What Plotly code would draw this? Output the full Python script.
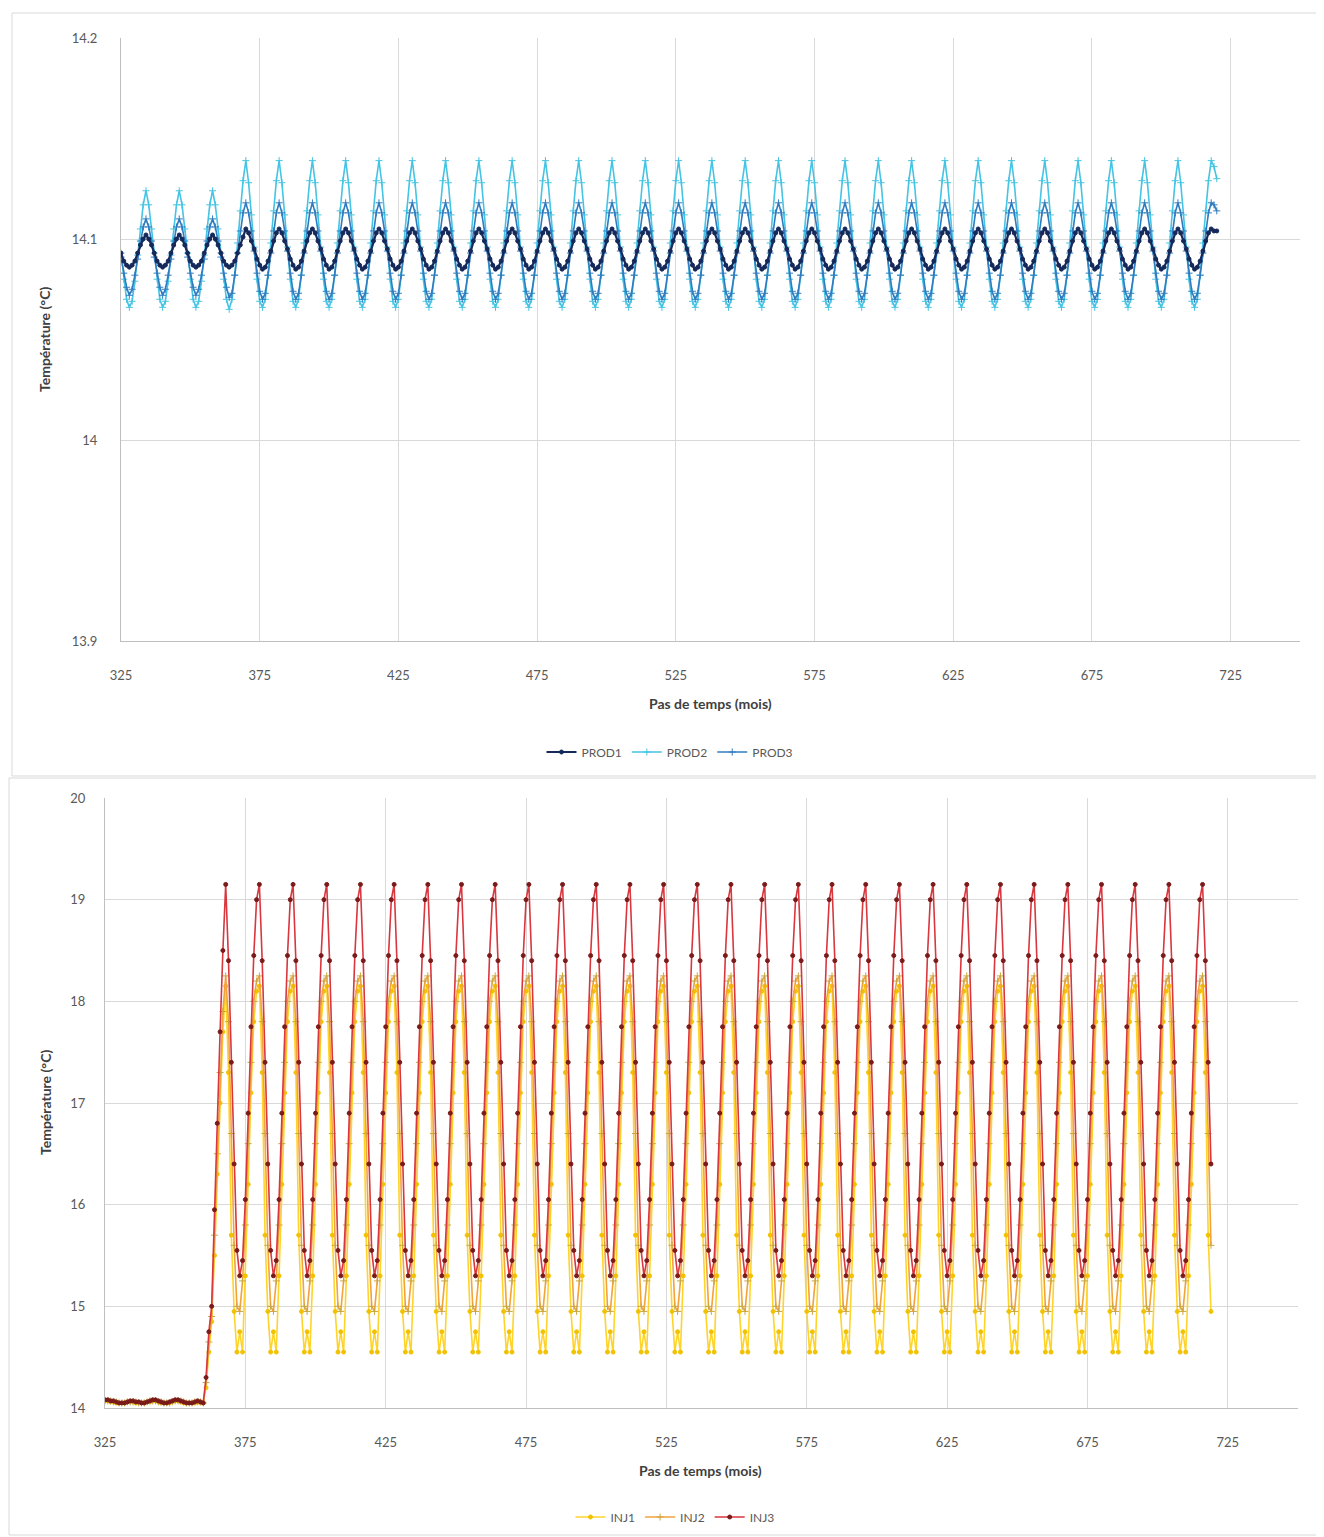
import plotly.graph_objects as go

# ---------------- DATA ----------------
# Top chart: production wells, time steps 325..720 (months)
months_prod = list(range(325, 721))
prod_names = ["PROD1", "PROD2", "PROD3"]

# Each row = one year of monthly values, the comment gives the first month of the row
PROD1_rows = [
    [14.093, 14.089, 14.087, 14.086, 14.087, 14.089, 14.093, 14.097, 14.100],  # 325
    [14.102, 14.100, 14.097, 14.093, 14.089, 14.087, 14.086, 14.087, 14.089, 14.093, 14.097, 14.100],  # 334
    [14.102, 14.100, 14.097, 14.093, 14.089, 14.087, 14.086, 14.087, 14.089, 14.093, 14.097, 14.100],  # 346
    [14.102, 14.100, 14.097, 14.093, 14.089, 14.087, 14.086, 14.087, 14.089, 14.093, 14.097, 14.101],  # 358
    [14.105, 14.103, 14.099, 14.095, 14.090, 14.087, 14.085, 14.086, 14.089, 14.094, 14.099, 14.103],  # 370
    [14.105, 14.103, 14.099, 14.095, 14.090, 14.087, 14.085, 14.086, 14.089, 14.094, 14.099, 14.103],  # 382
    [14.105, 14.103, 14.099, 14.095, 14.090, 14.087, 14.085, 14.086, 14.089, 14.094, 14.099, 14.103],  # 394
    [14.105, 14.103, 14.099, 14.095, 14.090, 14.087, 14.085, 14.086, 14.089, 14.094, 14.099, 14.103],  # 406
    [14.105, 14.103, 14.099, 14.095, 14.090, 14.087, 14.085, 14.086, 14.089, 14.094, 14.099, 14.103],  # 418
    [14.105, 14.103, 14.099, 14.095, 14.090, 14.087, 14.085, 14.086, 14.089, 14.094, 14.099, 14.103],  # 430
    [14.105, 14.103, 14.099, 14.095, 14.090, 14.087, 14.085, 14.086, 14.089, 14.094, 14.099, 14.103],  # 442
    [14.105, 14.103, 14.099, 14.095, 14.090, 14.087, 14.085, 14.086, 14.089, 14.094, 14.099, 14.103],  # 454
    [14.105, 14.103, 14.099, 14.095, 14.090, 14.087, 14.085, 14.086, 14.089, 14.094, 14.099, 14.103],  # 466
    [14.105, 14.103, 14.099, 14.095, 14.090, 14.087, 14.085, 14.086, 14.089, 14.094, 14.099, 14.103],  # 478
    [14.105, 14.103, 14.099, 14.095, 14.090, 14.087, 14.085, 14.086, 14.089, 14.094, 14.099, 14.103],  # 490
    [14.105, 14.103, 14.099, 14.095, 14.090, 14.087, 14.085, 14.086, 14.089, 14.094, 14.099, 14.103],  # 502
    [14.105, 14.103, 14.099, 14.095, 14.090, 14.087, 14.085, 14.086, 14.089, 14.094, 14.099, 14.103],  # 514
    [14.105, 14.103, 14.099, 14.095, 14.090, 14.087, 14.085, 14.086, 14.089, 14.094, 14.099, 14.103],  # 526
    [14.105, 14.103, 14.099, 14.095, 14.090, 14.087, 14.085, 14.086, 14.089, 14.094, 14.099, 14.103],  # 538
    [14.105, 14.103, 14.099, 14.095, 14.090, 14.087, 14.085, 14.086, 14.089, 14.094, 14.099, 14.103],  # 550
    [14.105, 14.103, 14.099, 14.095, 14.090, 14.087, 14.085, 14.086, 14.089, 14.094, 14.099, 14.103],  # 562
    [14.105, 14.103, 14.099, 14.095, 14.090, 14.087, 14.085, 14.086, 14.089, 14.094, 14.099, 14.103],  # 574
    [14.105, 14.103, 14.099, 14.095, 14.090, 14.087, 14.085, 14.086, 14.089, 14.094, 14.099, 14.103],  # 586
    [14.105, 14.103, 14.099, 14.095, 14.090, 14.087, 14.085, 14.086, 14.089, 14.094, 14.099, 14.103],  # 598
    [14.105, 14.103, 14.099, 14.095, 14.090, 14.087, 14.085, 14.086, 14.089, 14.094, 14.099, 14.103],  # 610
    [14.105, 14.103, 14.099, 14.095, 14.090, 14.087, 14.085, 14.086, 14.089, 14.094, 14.099, 14.103],  # 622
    [14.105, 14.103, 14.099, 14.095, 14.090, 14.087, 14.085, 14.086, 14.089, 14.094, 14.099, 14.103],  # 634
    [14.105, 14.103, 14.099, 14.095, 14.090, 14.087, 14.085, 14.086, 14.089, 14.094, 14.099, 14.103],  # 646
    [14.105, 14.103, 14.099, 14.095, 14.090, 14.087, 14.085, 14.086, 14.089, 14.094, 14.099, 14.103],  # 658
    [14.105, 14.103, 14.099, 14.095, 14.090, 14.087, 14.085, 14.086, 14.089, 14.094, 14.099, 14.103],  # 670
    [14.105, 14.103, 14.099, 14.095, 14.090, 14.087, 14.085, 14.086, 14.089, 14.094, 14.099, 14.103],  # 682
    [14.105, 14.103, 14.099, 14.095, 14.090, 14.087, 14.085, 14.086, 14.089, 14.094, 14.099, 14.103],  # 694
    [14.105, 14.103, 14.099, 14.095, 14.090, 14.087, 14.085, 14.086, 14.089, 14.094, 14.099, 14.103],  # 706
    [14.105, 14.104, 14.104],  # 718
]

PROD2_rows = [
    [14.093, 14.080, 14.070, 14.066, 14.069, 14.079, 14.092, 14.105, 14.117],  # 325
    [14.124, 14.117, 14.105, 14.093, 14.080, 14.070, 14.066, 14.069, 14.079, 14.092, 14.105, 14.117],  # 334
    [14.124, 14.117, 14.105, 14.093, 14.080, 14.070, 14.066, 14.069, 14.079, 14.092, 14.105, 14.117],  # 346
    [14.124, 14.117, 14.105, 14.093, 14.080, 14.070, 14.065, 14.070, 14.082, 14.098, 14.114, 14.129],  # 358
    [14.139, 14.128, 14.112, 14.096, 14.080, 14.069, 14.066, 14.070, 14.082, 14.098, 14.114, 14.129],  # 370
    [14.139, 14.128, 14.112, 14.096, 14.080, 14.069, 14.066, 14.070, 14.082, 14.098, 14.114, 14.129],  # 382
    [14.139, 14.128, 14.112, 14.096, 14.080, 14.069, 14.066, 14.070, 14.082, 14.098, 14.114, 14.129],  # 394
    [14.139, 14.128, 14.112, 14.096, 14.080, 14.069, 14.066, 14.070, 14.082, 14.098, 14.114, 14.129],  # 406
    [14.139, 14.128, 14.112, 14.096, 14.080, 14.069, 14.066, 14.070, 14.082, 14.098, 14.114, 14.129],  # 418
    [14.139, 14.128, 14.112, 14.096, 14.080, 14.069, 14.066, 14.070, 14.082, 14.098, 14.114, 14.129],  # 430
    [14.139, 14.128, 14.112, 14.096, 14.080, 14.069, 14.066, 14.070, 14.082, 14.098, 14.114, 14.129],  # 442
    [14.139, 14.128, 14.112, 14.096, 14.080, 14.069, 14.066, 14.070, 14.082, 14.098, 14.114, 14.129],  # 454
    [14.139, 14.128, 14.112, 14.096, 14.080, 14.069, 14.066, 14.070, 14.082, 14.098, 14.114, 14.129],  # 466
    [14.139, 14.128, 14.112, 14.096, 14.080, 14.069, 14.066, 14.070, 14.082, 14.098, 14.114, 14.129],  # 478
    [14.139, 14.128, 14.112, 14.096, 14.080, 14.069, 14.066, 14.070, 14.082, 14.098, 14.114, 14.129],  # 490
    [14.139, 14.128, 14.112, 14.096, 14.080, 14.069, 14.066, 14.070, 14.082, 14.098, 14.114, 14.129],  # 502
    [14.139, 14.128, 14.112, 14.096, 14.080, 14.069, 14.066, 14.070, 14.082, 14.098, 14.114, 14.129],  # 514
    [14.139, 14.128, 14.112, 14.096, 14.080, 14.069, 14.066, 14.070, 14.082, 14.098, 14.114, 14.129],  # 526
    [14.139, 14.128, 14.112, 14.096, 14.080, 14.069, 14.066, 14.070, 14.082, 14.098, 14.114, 14.129],  # 538
    [14.139, 14.128, 14.112, 14.096, 14.080, 14.069, 14.066, 14.070, 14.082, 14.098, 14.114, 14.129],  # 550
    [14.139, 14.128, 14.112, 14.096, 14.080, 14.069, 14.066, 14.070, 14.082, 14.098, 14.114, 14.129],  # 562
    [14.139, 14.128, 14.112, 14.096, 14.080, 14.069, 14.066, 14.070, 14.082, 14.098, 14.114, 14.129],  # 574
    [14.139, 14.128, 14.112, 14.096, 14.080, 14.069, 14.066, 14.070, 14.082, 14.098, 14.114, 14.129],  # 586
    [14.139, 14.128, 14.112, 14.096, 14.080, 14.069, 14.066, 14.070, 14.082, 14.098, 14.114, 14.129],  # 598
    [14.139, 14.128, 14.112, 14.096, 14.080, 14.069, 14.066, 14.070, 14.082, 14.098, 14.114, 14.129],  # 610
    [14.139, 14.128, 14.112, 14.096, 14.080, 14.069, 14.066, 14.070, 14.082, 14.098, 14.114, 14.129],  # 622
    [14.139, 14.128, 14.112, 14.096, 14.080, 14.069, 14.066, 14.070, 14.082, 14.098, 14.114, 14.129],  # 634
    [14.139, 14.128, 14.112, 14.096, 14.080, 14.069, 14.066, 14.070, 14.082, 14.098, 14.114, 14.129],  # 646
    [14.139, 14.128, 14.112, 14.096, 14.080, 14.069, 14.066, 14.070, 14.082, 14.098, 14.114, 14.129],  # 658
    [14.139, 14.128, 14.112, 14.096, 14.080, 14.069, 14.066, 14.070, 14.082, 14.098, 14.114, 14.129],  # 670
    [14.139, 14.128, 14.112, 14.096, 14.080, 14.069, 14.066, 14.070, 14.082, 14.098, 14.114, 14.129],  # 682
    [14.139, 14.128, 14.112, 14.096, 14.080, 14.069, 14.066, 14.070, 14.082, 14.098, 14.114, 14.129],  # 694
    [14.139, 14.128, 14.112, 14.096, 14.080, 14.069, 14.066, 14.070, 14.082, 14.098, 14.114, 14.129],  # 706
    [14.139, 14.136, 14.130],  # 718
]

PROD3_rows = [
    [14.091, 14.083, 14.076, 14.072, 14.075, 14.082, 14.090, 14.099, 14.106],  # 325
    [14.110, 14.106, 14.099, 14.091, 14.083, 14.076, 14.072, 14.075, 14.082, 14.090, 14.099, 14.106],  # 334
    [14.110, 14.106, 14.099, 14.091, 14.083, 14.076, 14.072, 14.075, 14.082, 14.090, 14.099, 14.106],  # 346
    [14.110, 14.106, 14.099, 14.091, 14.083, 14.076, 14.071, 14.073, 14.082, 14.093, 14.104, 14.113],  # 358
    [14.118, 14.113, 14.104, 14.094, 14.083, 14.074, 14.070, 14.073, 14.082, 14.093, 14.104, 14.113],  # 370
    [14.118, 14.113, 14.104, 14.094, 14.083, 14.074, 14.070, 14.073, 14.082, 14.093, 14.104, 14.113],  # 382
    [14.118, 14.113, 14.104, 14.094, 14.083, 14.074, 14.070, 14.073, 14.082, 14.093, 14.104, 14.113],  # 394
    [14.118, 14.113, 14.104, 14.094, 14.083, 14.074, 14.070, 14.073, 14.082, 14.093, 14.104, 14.113],  # 406
    [14.118, 14.113, 14.104, 14.094, 14.083, 14.074, 14.070, 14.073, 14.082, 14.093, 14.104, 14.113],  # 418
    [14.118, 14.113, 14.104, 14.094, 14.083, 14.074, 14.070, 14.073, 14.082, 14.093, 14.104, 14.113],  # 430
    [14.118, 14.113, 14.104, 14.094, 14.083, 14.074, 14.070, 14.073, 14.082, 14.093, 14.104, 14.113],  # 442
    [14.118, 14.113, 14.104, 14.094, 14.083, 14.074, 14.070, 14.073, 14.082, 14.093, 14.104, 14.113],  # 454
    [14.118, 14.113, 14.104, 14.094, 14.083, 14.074, 14.070, 14.073, 14.082, 14.093, 14.104, 14.113],  # 466
    [14.118, 14.113, 14.104, 14.094, 14.083, 14.074, 14.070, 14.073, 14.082, 14.093, 14.104, 14.113],  # 478
    [14.118, 14.113, 14.104, 14.094, 14.083, 14.074, 14.070, 14.073, 14.082, 14.093, 14.104, 14.113],  # 490
    [14.118, 14.113, 14.104, 14.094, 14.083, 14.074, 14.070, 14.073, 14.082, 14.093, 14.104, 14.113],  # 502
    [14.118, 14.113, 14.104, 14.094, 14.083, 14.074, 14.070, 14.073, 14.082, 14.093, 14.104, 14.113],  # 514
    [14.118, 14.113, 14.104, 14.094, 14.083, 14.074, 14.070, 14.073, 14.082, 14.093, 14.104, 14.113],  # 526
    [14.118, 14.113, 14.104, 14.094, 14.083, 14.074, 14.070, 14.073, 14.082, 14.093, 14.104, 14.113],  # 538
    [14.118, 14.113, 14.104, 14.094, 14.083, 14.074, 14.070, 14.073, 14.082, 14.093, 14.104, 14.113],  # 550
    [14.118, 14.113, 14.104, 14.094, 14.083, 14.074, 14.070, 14.073, 14.082, 14.093, 14.104, 14.113],  # 562
    [14.118, 14.113, 14.104, 14.094, 14.083, 14.074, 14.070, 14.073, 14.082, 14.093, 14.104, 14.113],  # 574
    [14.118, 14.113, 14.104, 14.094, 14.083, 14.074, 14.070, 14.073, 14.082, 14.093, 14.104, 14.113],  # 586
    [14.118, 14.113, 14.104, 14.094, 14.083, 14.074, 14.070, 14.073, 14.082, 14.093, 14.104, 14.113],  # 598
    [14.118, 14.113, 14.104, 14.094, 14.083, 14.074, 14.070, 14.073, 14.082, 14.093, 14.104, 14.113],  # 610
    [14.118, 14.113, 14.104, 14.094, 14.083, 14.074, 14.070, 14.073, 14.082, 14.093, 14.104, 14.113],  # 622
    [14.118, 14.113, 14.104, 14.094, 14.083, 14.074, 14.070, 14.073, 14.082, 14.093, 14.104, 14.113],  # 634
    [14.118, 14.113, 14.104, 14.094, 14.083, 14.074, 14.070, 14.073, 14.082, 14.093, 14.104, 14.113],  # 646
    [14.118, 14.113, 14.104, 14.094, 14.083, 14.074, 14.070, 14.073, 14.082, 14.093, 14.104, 14.113],  # 658
    [14.118, 14.113, 14.104, 14.094, 14.083, 14.074, 14.070, 14.073, 14.082, 14.093, 14.104, 14.113],  # 670
    [14.118, 14.113, 14.104, 14.094, 14.083, 14.074, 14.070, 14.073, 14.082, 14.093, 14.104, 14.113],  # 682
    [14.118, 14.113, 14.104, 14.094, 14.083, 14.074, 14.070, 14.073, 14.082, 14.093, 14.104, 14.113],  # 694
    [14.118, 14.113, 14.104, 14.094, 14.083, 14.074, 14.070, 14.073, 14.082, 14.093, 14.104, 14.113],  # 706
    [14.118, 14.117, 14.114],  # 718
]

# Bottom chart: injection wells, time steps 325..719 (months)
months_inj = list(range(325, 720))
inj_names = ["INJ1", "INJ2", "INJ3"]

INJ1_rows = [
    [14.07, 14.07, 14.06, 14.06, 14.05, 14.05, 14.05, 14.05, 14.06, 14.06, 14.06, 14.05],  # 325
    [14.05, 14.05, 14.05, 14.06, 14.06, 14.07, 14.07, 14.06, 14.05, 14.05, 14.05, 14.05],  # 337
    [14.06, 14.07, 14.07, 14.06, 14.05, 14.05, 14.05, 14.05, 14.05, 14.06, 14.05, 14.05],  # 349
    [14.20, 14.55, 14.85, 15.50, 16.30, 17.00, 17.70],  # 361
    [18.15, 17.30, 15.70, 14.95, 14.55, 14.75, 14.55, 15.30, 16.20, 17.10, 17.80, 18.10],  # 368
    [18.15, 17.30, 15.70, 14.95, 14.55, 14.75, 14.55, 15.30, 16.20, 17.10, 17.80, 18.10],  # 380
    [18.15, 17.30, 15.70, 14.95, 14.55, 14.75, 14.55, 15.30, 16.20, 17.10, 17.80, 18.10],  # 392
    [18.15, 17.30, 15.70, 14.95, 14.55, 14.75, 14.55, 15.30, 16.20, 17.10, 17.80, 18.10],  # 404
    [18.15, 17.30, 15.70, 14.95, 14.55, 14.75, 14.55, 15.30, 16.20, 17.10, 17.80, 18.10],  # 416
    [18.15, 17.30, 15.70, 14.95, 14.55, 14.75, 14.55, 15.30, 16.20, 17.10, 17.80, 18.10],  # 428
    [18.15, 17.30, 15.70, 14.95, 14.55, 14.75, 14.55, 15.30, 16.20, 17.10, 17.80, 18.10],  # 440
    [18.15, 17.30, 15.70, 14.95, 14.55, 14.75, 14.55, 15.30, 16.20, 17.10, 17.80, 18.10],  # 452
    [18.15, 17.30, 15.70, 14.95, 14.55, 14.75, 14.55, 15.30, 16.20, 17.10, 17.80, 18.10],  # 464
    [18.15, 17.30, 15.70, 14.95, 14.55, 14.75, 14.55, 15.30, 16.20, 17.10, 17.80, 18.10],  # 476
    [18.15, 17.30, 15.70, 14.95, 14.55, 14.75, 14.55, 15.30, 16.20, 17.10, 17.80, 18.10],  # 488
    [18.15, 17.30, 15.70, 14.95, 14.55, 14.75, 14.55, 15.30, 16.20, 17.10, 17.80, 18.10],  # 500
    [18.15, 17.30, 15.70, 14.95, 14.55, 14.75, 14.55, 15.30, 16.20, 17.10, 17.80, 18.10],  # 512
    [18.15, 17.30, 15.70, 14.95, 14.55, 14.75, 14.55, 15.30, 16.20, 17.10, 17.80, 18.10],  # 524
    [18.15, 17.30, 15.70, 14.95, 14.55, 14.75, 14.55, 15.30, 16.20, 17.10, 17.80, 18.10],  # 536
    [18.15, 17.30, 15.70, 14.95, 14.55, 14.75, 14.55, 15.30, 16.20, 17.10, 17.80, 18.10],  # 548
    [18.15, 17.30, 15.70, 14.95, 14.55, 14.75, 14.55, 15.30, 16.20, 17.10, 17.80, 18.10],  # 560
    [18.15, 17.30, 15.70, 14.95, 14.55, 14.75, 14.55, 15.30, 16.20, 17.10, 17.80, 18.10],  # 572
    [18.15, 17.30, 15.70, 14.95, 14.55, 14.75, 14.55, 15.30, 16.20, 17.10, 17.80, 18.10],  # 584
    [18.15, 17.30, 15.70, 14.95, 14.55, 14.75, 14.55, 15.30, 16.20, 17.10, 17.80, 18.10],  # 596
    [18.15, 17.30, 15.70, 14.95, 14.55, 14.75, 14.55, 15.30, 16.20, 17.10, 17.80, 18.10],  # 608
    [18.15, 17.30, 15.70, 14.95, 14.55, 14.75, 14.55, 15.30, 16.20, 17.10, 17.80, 18.10],  # 620
    [18.15, 17.30, 15.70, 14.95, 14.55, 14.75, 14.55, 15.30, 16.20, 17.10, 17.80, 18.10],  # 632
    [18.15, 17.30, 15.70, 14.95, 14.55, 14.75, 14.55, 15.30, 16.20, 17.10, 17.80, 18.10],  # 644
    [18.15, 17.30, 15.70, 14.95, 14.55, 14.75, 14.55, 15.30, 16.20, 17.10, 17.80, 18.10],  # 656
    [18.15, 17.30, 15.70, 14.95, 14.55, 14.75, 14.55, 15.30, 16.20, 17.10, 17.80, 18.10],  # 668
    [18.15, 17.30, 15.70, 14.95, 14.55, 14.75, 14.55, 15.30, 16.20, 17.10, 17.80, 18.10],  # 680
    [18.15, 17.30, 15.70, 14.95, 14.55, 14.75, 14.55, 15.30, 16.20, 17.10, 17.80, 18.10],  # 692
    [18.15, 17.30, 15.70, 14.95, 14.55, 14.75, 14.55, 15.30, 16.20, 17.10, 17.80, 18.10],  # 704
    [18.15, 17.30, 15.70, 14.95],  # 716
]

INJ2_rows = [
    [14.07, 14.07, 14.07, 14.06, 14.06, 14.05, 14.05, 14.05, 14.06, 14.06, 14.06, 14.06],  # 325
    [14.05, 14.05, 14.05, 14.06, 14.07, 14.07, 14.07, 14.06, 14.06, 14.05, 14.05, 14.05],  # 337
    [14.06, 14.07, 14.07, 14.07, 14.06, 14.05, 14.05, 14.05, 14.06, 14.06, 14.06, 14.05],  # 349
    [14.25, 14.65, 14.90, 15.70, 16.50, 17.30, 17.90],  # 361
    [18.25, 17.80, 16.70, 15.60, 15.00, 14.95, 15.25, 15.80, 16.60, 17.40, 18.00, 18.20],  # 368
    [18.25, 17.80, 16.70, 15.60, 15.00, 14.95, 15.25, 15.80, 16.60, 17.40, 18.00, 18.20],  # 380
    [18.25, 17.80, 16.70, 15.60, 15.00, 14.95, 15.25, 15.80, 16.60, 17.40, 18.00, 18.20],  # 392
    [18.25, 17.80, 16.70, 15.60, 15.00, 14.95, 15.25, 15.80, 16.60, 17.40, 18.00, 18.20],  # 404
    [18.25, 17.80, 16.70, 15.60, 15.00, 14.95, 15.25, 15.80, 16.60, 17.40, 18.00, 18.20],  # 416
    [18.25, 17.80, 16.70, 15.60, 15.00, 14.95, 15.25, 15.80, 16.60, 17.40, 18.00, 18.20],  # 428
    [18.25, 17.80, 16.70, 15.60, 15.00, 14.95, 15.25, 15.80, 16.60, 17.40, 18.00, 18.20],  # 440
    [18.25, 17.80, 16.70, 15.60, 15.00, 14.95, 15.25, 15.80, 16.60, 17.40, 18.00, 18.20],  # 452
    [18.25, 17.80, 16.70, 15.60, 15.00, 14.95, 15.25, 15.80, 16.60, 17.40, 18.00, 18.20],  # 464
    [18.25, 17.80, 16.70, 15.60, 15.00, 14.95, 15.25, 15.80, 16.60, 17.40, 18.00, 18.20],  # 476
    [18.25, 17.80, 16.70, 15.60, 15.00, 14.95, 15.25, 15.80, 16.60, 17.40, 18.00, 18.20],  # 488
    [18.25, 17.80, 16.70, 15.60, 15.00, 14.95, 15.25, 15.80, 16.60, 17.40, 18.00, 18.20],  # 500
    [18.25, 17.80, 16.70, 15.60, 15.00, 14.95, 15.25, 15.80, 16.60, 17.40, 18.00, 18.20],  # 512
    [18.25, 17.80, 16.70, 15.60, 15.00, 14.95, 15.25, 15.80, 16.60, 17.40, 18.00, 18.20],  # 524
    [18.25, 17.80, 16.70, 15.60, 15.00, 14.95, 15.25, 15.80, 16.60, 17.40, 18.00, 18.20],  # 536
    [18.25, 17.80, 16.70, 15.60, 15.00, 14.95, 15.25, 15.80, 16.60, 17.40, 18.00, 18.20],  # 548
    [18.25, 17.80, 16.70, 15.60, 15.00, 14.95, 15.25, 15.80, 16.60, 17.40, 18.00, 18.20],  # 560
    [18.25, 17.80, 16.70, 15.60, 15.00, 14.95, 15.25, 15.80, 16.60, 17.40, 18.00, 18.20],  # 572
    [18.25, 17.80, 16.70, 15.60, 15.00, 14.95, 15.25, 15.80, 16.60, 17.40, 18.00, 18.20],  # 584
    [18.25, 17.80, 16.70, 15.60, 15.00, 14.95, 15.25, 15.80, 16.60, 17.40, 18.00, 18.20],  # 596
    [18.25, 17.80, 16.70, 15.60, 15.00, 14.95, 15.25, 15.80, 16.60, 17.40, 18.00, 18.20],  # 608
    [18.25, 17.80, 16.70, 15.60, 15.00, 14.95, 15.25, 15.80, 16.60, 17.40, 18.00, 18.20],  # 620
    [18.25, 17.80, 16.70, 15.60, 15.00, 14.95, 15.25, 15.80, 16.60, 17.40, 18.00, 18.20],  # 632
    [18.25, 17.80, 16.70, 15.60, 15.00, 14.95, 15.25, 15.80, 16.60, 17.40, 18.00, 18.20],  # 644
    [18.25, 17.80, 16.70, 15.60, 15.00, 14.95, 15.25, 15.80, 16.60, 17.40, 18.00, 18.20],  # 656
    [18.25, 17.80, 16.70, 15.60, 15.00, 14.95, 15.25, 15.80, 16.60, 17.40, 18.00, 18.20],  # 668
    [18.25, 17.80, 16.70, 15.60, 15.00, 14.95, 15.25, 15.80, 16.60, 17.40, 18.00, 18.20],  # 680
    [18.25, 17.80, 16.70, 15.60, 15.00, 14.95, 15.25, 15.80, 16.60, 17.40, 18.00, 18.20],  # 692
    [18.25, 17.80, 16.70, 15.60, 15.00, 14.95, 15.25, 15.80, 16.60, 17.40, 18.00, 18.20],  # 704
    [18.25, 17.80, 16.70, 15.60],  # 716
]

INJ3_rows = [
    [14.08, 14.08, 14.07, 14.07, 14.06, 14.05, 14.05, 14.05, 14.06, 14.07, 14.07, 14.06],  # 325
    [14.06, 14.05, 14.05, 14.06, 14.07, 14.08, 14.08, 14.07, 14.06, 14.05, 14.05, 14.06],  # 337
    [14.07, 14.08, 14.08, 14.07, 14.06, 14.05, 14.05, 14.05, 14.06, 14.07, 14.06, 14.05],  # 349
    [14.30, 14.75, 15.00, 15.95, 16.80, 17.70, 18.50],  # 361
    [19.15, 18.40, 17.40, 16.40, 15.55, 15.30, 15.45, 16.05, 16.90, 17.75, 18.45, 19.00],  # 368
    [19.15, 18.40, 17.40, 16.40, 15.55, 15.30, 15.45, 16.05, 16.90, 17.75, 18.45, 19.00],  # 380
    [19.15, 18.40, 17.40, 16.40, 15.55, 15.30, 15.45, 16.05, 16.90, 17.75, 18.45, 19.00],  # 392
    [19.15, 18.40, 17.40, 16.40, 15.55, 15.30, 15.45, 16.05, 16.90, 17.75, 18.45, 19.00],  # 404
    [19.15, 18.40, 17.40, 16.40, 15.55, 15.30, 15.45, 16.05, 16.90, 17.75, 18.45, 19.00],  # 416
    [19.15, 18.40, 17.40, 16.40, 15.55, 15.30, 15.45, 16.05, 16.90, 17.75, 18.45, 19.00],  # 428
    [19.15, 18.40, 17.40, 16.40, 15.55, 15.30, 15.45, 16.05, 16.90, 17.75, 18.45, 19.00],  # 440
    [19.15, 18.40, 17.40, 16.40, 15.55, 15.30, 15.45, 16.05, 16.90, 17.75, 18.45, 19.00],  # 452
    [19.15, 18.40, 17.40, 16.40, 15.55, 15.30, 15.45, 16.05, 16.90, 17.75, 18.45, 19.00],  # 464
    [19.15, 18.40, 17.40, 16.40, 15.55, 15.30, 15.45, 16.05, 16.90, 17.75, 18.45, 19.00],  # 476
    [19.15, 18.40, 17.40, 16.40, 15.55, 15.30, 15.45, 16.05, 16.90, 17.75, 18.45, 19.00],  # 488
    [19.15, 18.40, 17.40, 16.40, 15.55, 15.30, 15.45, 16.05, 16.90, 17.75, 18.45, 19.00],  # 500
    [19.15, 18.40, 17.40, 16.40, 15.55, 15.30, 15.45, 16.05, 16.90, 17.75, 18.45, 19.00],  # 512
    [19.15, 18.40, 17.40, 16.40, 15.55, 15.30, 15.45, 16.05, 16.90, 17.75, 18.45, 19.00],  # 524
    [19.15, 18.40, 17.40, 16.40, 15.55, 15.30, 15.45, 16.05, 16.90, 17.75, 18.45, 19.00],  # 536
    [19.15, 18.40, 17.40, 16.40, 15.55, 15.30, 15.45, 16.05, 16.90, 17.75, 18.45, 19.00],  # 548
    [19.15, 18.40, 17.40, 16.40, 15.55, 15.30, 15.45, 16.05, 16.90, 17.75, 18.45, 19.00],  # 560
    [19.15, 18.40, 17.40, 16.40, 15.55, 15.30, 15.45, 16.05, 16.90, 17.75, 18.45, 19.00],  # 572
    [19.15, 18.40, 17.40, 16.40, 15.55, 15.30, 15.45, 16.05, 16.90, 17.75, 18.45, 19.00],  # 584
    [19.15, 18.40, 17.40, 16.40, 15.55, 15.30, 15.45, 16.05, 16.90, 17.75, 18.45, 19.00],  # 596
    [19.15, 18.40, 17.40, 16.40, 15.55, 15.30, 15.45, 16.05, 16.90, 17.75, 18.45, 19.00],  # 608
    [19.15, 18.40, 17.40, 16.40, 15.55, 15.30, 15.45, 16.05, 16.90, 17.75, 18.45, 19.00],  # 620
    [19.15, 18.40, 17.40, 16.40, 15.55, 15.30, 15.45, 16.05, 16.90, 17.75, 18.45, 19.00],  # 632
    [19.15, 18.40, 17.40, 16.40, 15.55, 15.30, 15.45, 16.05, 16.90, 17.75, 18.45, 19.00],  # 644
    [19.15, 18.40, 17.40, 16.40, 15.55, 15.30, 15.45, 16.05, 16.90, 17.75, 18.45, 19.00],  # 656
    [19.15, 18.40, 17.40, 16.40, 15.55, 15.30, 15.45, 16.05, 16.90, 17.75, 18.45, 19.00],  # 668
    [19.15, 18.40, 17.40, 16.40, 15.55, 15.30, 15.45, 16.05, 16.90, 17.75, 18.45, 19.00],  # 680
    [19.15, 18.40, 17.40, 16.40, 15.55, 15.30, 15.45, 16.05, 16.90, 17.75, 18.45, 19.00],  # 692
    [19.15, 18.40, 17.40, 16.40, 15.55, 15.30, 15.45, 16.05, 16.90, 17.75, 18.45, 19.00],  # 704
    [19.15, 18.40, 17.40, 16.40],  # 716
]

x_ticks = [325, 375, 425, 475, 525, 575, 625, 675, 725]
prod_yticks = [13.9, 14.0, 14.1, 14.2]
prod_yticktext = ["13.9", "14", "14.1", "14.2"]
inj_yticks = [14, 15, 16, 17, 18, 19, 20]


def flatten(rows):
    return [v for row in rows for v in row]


PROD1 = flatten(PROD1_rows)
PROD2 = flatten(PROD2_rows)
PROD3 = flatten(PROD3_rows)
INJ1 = flatten(INJ1_rows)
INJ2 = flatten(INJ2_rows)
INJ3 = flatten(INJ3_rows)

# ---------------- FIGURE ----------------
# The page body has an 8 px margin: the figure is drawn from (8, 8)
OFF = 8
W, H = 1324 - OFF, 1537 - OFF
FONT = "Lato, 'Open Sans', 'DejaVu Sans', sans-serif"
TICK_COL = "#595959"
GRID = "#d9d9d9"

fig = go.Figure()

prod_style = {
    "PROD1": dict(color="#15295a", symbol="circle", size=4, width=2.2, rank=1),
    "PROD2": dict(color="#45c4e4", symbol="cross-thin", size=5, width=1.6, rank=2),
    "PROD3": dict(color="#2f7cbf", symbol="cross-thin", size=5, width=1.6, rank=3),
}
prod_data = {"PROD1": PROD1, "PROD2": PROD2, "PROD3": PROD3}
for name in ["PROD2", "PROD3", "PROD1"]:
    s = prod_style[name]
    fig.add_trace(go.Scatter(
        x=months_prod, y=prod_data[name], name=name, mode="lines+markers",
        xaxis="x", yaxis="y", legend="legend", legendrank=s["rank"],
        line=dict(color=s["color"], width=s["width"]),
        marker=dict(symbol=s["symbol"], size=s["size"], color=s["color"],
                    line=dict(color=s["color"], width=1)),
    ))

inj_style = {
    "INJ1": dict(color="#ffd42a", mcolor="#f2c200", symbol="circle", size=4, width=1.6),
    "INJ2": dict(color="#f2a33a", mcolor="#c9a640", symbol="cross-thin", size=5, width=1.6),
    "INJ3": dict(color="#d9363e", mcolor="#7a1a1a", symbol="circle", size=4, width=1.6),
}
inj_data = {"INJ1": INJ1, "INJ2": INJ2, "INJ3": INJ3}
for name in inj_names:
    s = inj_style[name]
    fig.add_trace(go.Scatter(
        x=months_inj, y=inj_data[name], name=name, mode="lines+markers",
        xaxis="x2", yaxis="y2", legend="legend2",
        line=dict(color=s["color"], width=s["width"]),
        marker=dict(symbol=s["symbol"], size=s["size"], color=s["mcolor"],
                    line=dict(color=s["mcolor"], width=1)),
    ))


def px_x(p):
    return (p - OFF) / W


def px_y(p):
    return 1 - (p - OFF) / H


axis_common = dict(
    showgrid=True, gridcolor=GRID, gridwidth=1, zeroline=False, automargin=False,
    showline=True, linecolor="#bfbfbf", linewidth=1, ticks="",
    tickfont=dict(family=FONT, size=13, color=TICK_COL),
)

fig.update_layout(
    width=W, height=H,
    margin=dict(l=0, r=0, t=0, b=0, autoexpand=False),
    paper_bgcolor="white", plot_bgcolor="white",
    font=dict(family=FONT, color=TICK_COL),
    xaxis=dict(domain=[px_x(121), px_x(1300)], range=[325, 750], anchor="y",
               tickvals=x_ticks, ticklabelstandoff=22, **axis_common),
    yaxis=dict(domain=[px_y(641), px_y(38)], range=[13.9, 14.2], anchor="x",
               tickvals=prod_yticks, ticktext=prod_yticktext,
               ticklabelstandoff=20, **axis_common),
    xaxis2=dict(domain=[px_x(105), px_x(1298)], range=[325, 750], anchor="y2",
                tickvals=x_ticks, ticklabelstandoff=22, **axis_common),
    yaxis2=dict(domain=[px_y(1408), px_y(798)], range=[14, 20], anchor="x2",
                tickvals=inj_yticks, ticklabelstandoff=16, **axis_common),
    legend=dict(orientation="h", x=px_x(670), xanchor="center", y=px_y(752), yanchor="middle",
                font=dict(family=FONT, size=12, color=TICK_COL), bgcolor="rgba(0,0,0,0)",
                itemwidth=30, tracegroupgap=0),
    legend2=dict(orientation="h", x=px_x(675), xanchor="center", y=px_y(1517), yanchor="middle",
                 font=dict(family=FONT, size=12, color=TICK_COL), bgcolor="rgba(0,0,0,0)",
                 itemwidth=30, tracegroupgap=0),
    showlegend=True,
)

title_font = dict(family=FONT, size=14, color="#404040")
annotations = [
    dict(text="<b>Pas de temps (mois)</b>", x=px_x(710), y=px_y(703), xref="paper", yref="paper",
         showarrow=False, font=title_font, xanchor="center", yanchor="middle"),
    dict(text="<b>Température (°C)</b>", x=px_x(45), y=px_y(340), xref="paper", yref="paper",
         showarrow=False, font=title_font, textangle=-90, xanchor="center", yanchor="middle"),
    dict(text="<b>Pas de temps (mois)</b>", x=px_x(700), y=px_y(1470), xref="paper", yref="paper",
         showarrow=False, font=title_font, xanchor="center", yanchor="middle"),
    dict(text="<b>Température (°C)</b>", x=px_x(45), y=px_y(1103), xref="paper", yref="paper",
         showarrow=False, font=title_font, textangle=-90, xanchor="center", yanchor="middle"),
]
fig.update_layout(annotations=annotations)

shapes = [
    dict(type="rect", xref="paper", yref="paper", x0=px_x(12), x1=px_x(1322), y0=px_y(776), y1=px_y(13),
         line=dict(color="#d9d9d9", width=1), fillcolor="rgba(0,0,0,0)", layer="below"),
    dict(type="rect", xref="paper", yref="paper", x0=px_x(9), x1=px_x(1322), y0=px_y(1535), y1=px_y(778),
         line=dict(color="#d9d9d9", width=1), fillcolor="rgba(0,0,0,0)", layer="below"),
]
fig.update_layout(shapes=shapes)

fig.write_html("out.html")
